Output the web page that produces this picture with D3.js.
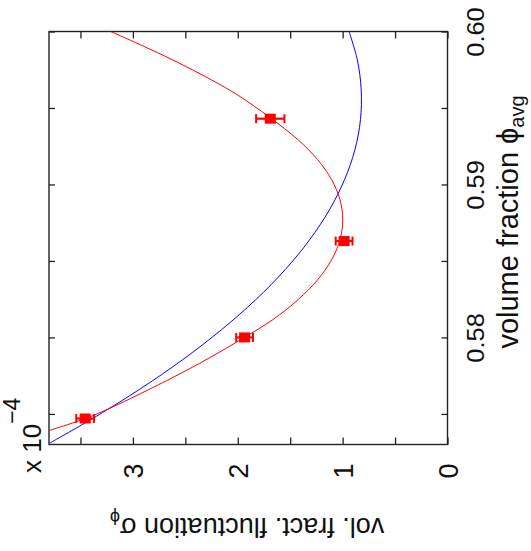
<!DOCTYPE html>
<html>
<head>
<meta charset="utf-8">
<script src="https://cdn.jsdelivr.net/npm/d3@7"></script>
<style>
  body { margin: 0; background: #fff; }
  svg { display: block; font-family: "Liberation Sans", Arial, Helvetica, sans-serif; }
</style>
</head>
<body>
<svg id="chart"></svg>
<script>
// DATA (phi = volume fraction, sigma = fluctuation in units of 1e-4)
const phiTicks = [0.575, 0.58, 0.585, 0.59, 0.595, 0.60];
const phiLabels = [0.58, 0.59, 0.60];
const sigmaTicks = [0, 0.5, 1, 1.5, 2, 2.5, 3, 3.5];
const sigmaLabels = [0, 1, 2, 3];

// measured points with error bars
const pointPhi = [0.5747, 0.5800, 0.5863, 0.5943];
const pointSigma = [3.455, 1.935, 0.986, 1.690];
const pointErr = [0.085, 0.080, 0.080, 0.135];

// red fit curve
const redPhi = [0.57393, 0.57469, 0.57544, 0.57659, 0.57776, 0.57887, 0.58001, 0.58116, 0.58247, 0.58377,
                0.58508, 0.58639, 0.58769, 0.58900, 0.59031, 0.59162, 0.59292, 0.59438, 0.59586, 0.59684,
                0.59815, 0.59907, 0.60000];
const redSigma = [3.792, 3.455, 3.198, 2.849, 2.513, 2.216, 1.935, 1.665, 1.425, 1.238,
                  1.105, 1.025, 0.999, 1.025, 1.105, 1.238, 1.425, 1.694, 2.004, 2.252,
                  2.622, 2.909, 3.211];

// blue model curve
const bluePhi = [0.57310, 0.57463, 0.57659, 0.57855, 0.58051, 0.58247, 0.58443, 0.58639, 0.58835,
                 0.59031, 0.59227, 0.59423, 0.59619, 0.59815, 0.60000];
const blueSigma = [3.791, 3.401, 2.940, 2.524, 2.154, 1.828, 1.548, 1.314, 1.125,
                   0.982, 0.883, 0.830, 0.823, 0.860, 0.939];

// LAYOUT (figure is rotated: phi runs up the right side, sigma runs right-to-left)
const W = 531, H = 551;
const box = { left: 49, right: 447.5, top: 31.5, bottom: 444.5 };

const svg = d3.select('#chart').attr('width', W).attr('height', H);
svg.append('rect').attr('width', W).attr('height', H).attr('fill', '#fff');

const y = d3.scaleLinear().domain([0.573, 0.60]).range([box.bottom, box.top]);
const x = d3.scaleLinear().domain([0, 3.8]).range([box.right, box.left]);

svg.append('clipPath').attr('id', 'plotClip')
  .append('rect')
  .attr('x', box.left).attr('y', box.top)
  .attr('width', box.right - box.left).attr('height', box.bottom - box.top);

// AXES
const fmt = d3.format('.2f');
const axisColor = '#222';

// right axis: volume fraction
const rightAxis = svg.append('g')
  .attr('transform', `translate(${box.right},0)`)
  .style('color', axisColor)
  .call(d3.axisRight(y).tickValues(phiTicks).tickSizeInner(-6).tickSizeOuter(0)
    .tickFormat(d => phiLabels.some(v => Math.abs(v - d) < 1e-9) ? fmt(d) : ''));
rightAxis.select('.domain').remove();
rightAxis.selectAll('.tick text')
  .attr('x', null).attr('dy', null)
  .attr('transform', 'translate(36,0) rotate(-90) scale(1.06,1)')
  .attr('text-anchor', 'middle')
  .attr('font-size', 24)
  .attr('fill', '#111');

// left mirror ticks
const leftAxis = svg.append('g')
  .attr('transform', `translate(${box.left},0)`)
  .style('color', axisColor)
  .call(d3.axisLeft(y).tickValues(phiTicks).tickSizeInner(-6).tickSizeOuter(0).tickFormat(''));
leftAxis.select('.domain').remove();

// bottom axis: fluctuation
const bottomAxis = svg.append('g')
  .attr('transform', `translate(0,${box.bottom})`)
  .style('color', axisColor)
  .call(d3.axisBottom(x).tickValues(sigmaTicks).tickSizeInner(-7).tickSizeOuter(0)
    .tickFormat(d => sigmaLabels.includes(d) ? d : ''));
bottomAxis.select('.domain').remove();
bottomAxis.selectAll('.tick text')
  .attr('y', null)
  .attr('dy', '0.36em')
  .attr('transform', 'translate(0,19) rotate(-90)')
  .attr('text-anchor', 'end')
  .attr('font-size', 27)
  .attr('fill', '#111');

// top mirror ticks
const topAxis = svg.append('g')
  .attr('transform', `translate(0,${box.top})`)
  .style('color', axisColor)
  .call(d3.axisTop(x).tickValues(sigmaTicks).tickSizeInner(-7).tickSizeOuter(0).tickFormat(''));
topAxis.select('.domain').remove();

svg.selectAll('.tick line').attr('stroke-width', 1.3);

// frame
svg.append('rect')
  .attr('x', box.left).attr('y', box.top)
  .attr('width', box.right - box.left).attr('height', box.bottom - box.top)
  .attr('fill', 'none').attr('stroke', axisColor).attr('stroke-width', 1.4);

// CURVES
const line = d3.line()
  .x(d => x(d[1]))
  .y(d => y(d[0]))
  .curve(d3.curveCatmullRom.alpha(0.5));

const plot = svg.append('g').attr('clip-path', 'url(#plotClip)');

plot.append('path')
  .datum(d3.zip(bluePhi, blueSigma))
  .attr('d', line)
  .attr('fill', 'none').attr('stroke', '#0000ff').attr('stroke-width', 1);

plot.append('path')
  .datum(d3.zip(redPhi, redSigma))
  .attr('d', line)
  .attr('fill', 'none').attr('stroke', '#ff0000').attr('stroke-width', 1);

// POINTS with horizontal error bars
const pts = pointPhi.map((p, i) => ({ phi: p, s: pointSigma[i], e: pointErr[i] }));
const pg = svg.append('g').selectAll('g').data(pts).enter().append('g')
  .attr('stroke', '#ff0000').attr('fill', '#ff0000');

pg.append('line')
  .attr('x1', d => x(d.s - d.e)).attr('x2', d => x(d.s + d.e))
  .attr('y1', d => y(d.phi)).attr('y2', d => y(d.phi))
  .attr('stroke-width', 2.2);
pg.append('line')
  .attr('x1', d => x(d.s - d.e)).attr('x2', d => x(d.s - d.e))
  .attr('y1', d => y(d.phi) - 4.5).attr('y2', d => y(d.phi) + 4.5)
  .attr('stroke-width', 2);
pg.append('line')
  .attr('x1', d => x(d.s + d.e)).attr('x2', d => x(d.s + d.e))
  .attr('y1', d => y(d.phi) - 4.5).attr('y2', d => y(d.phi) + 4.5)
  .attr('stroke-width', 2);
pg.append('rect')
  .attr('x', d => x(d.s) - 5.5).attr('y', d => y(d.phi) - 5)
  .attr('width', 11).attr('height', 10)
  .attr('stroke', 'none');

// LABELS
const rightLabel = svg.append('text')
  .attr('transform', 'translate(518,222) rotate(-90)')
  .attr('text-anchor', 'middle')
  .attr('font-size', 29)
  .attr('fill', '#111');
rightLabel.append('tspan').text('volume fraction ϕ');
rightLabel.append('tspan').attr('font-size', 20).attr('dy', '0.3em').text('avg');

const bottomLabel = svg.append('text')
  .attr('transform', 'translate(247,518) rotate(180)')
  .attr('text-anchor', 'middle')
  .attr('font-size', 27)
  .attr('fill', '#111');
bottomLabel.append('tspan').text('vol. fract. fluctuation σ');
bottomLabel.append('tspan').attr('font-size', 18).attr('dy', '0.35em').text('ϕ');

const expLabel = svg.append('text')
  .attr('transform', 'translate(41,473) rotate(-90)')
  .attr('text-anchor', 'start')
  .attr('font-size', 26)
  .attr('fill', '#111');
expLabel.append('tspan').text('x 10');
expLabel.append('tspan').attr('font-size', 23).attr('dy', -21).text('−4');
</script>
</body>
</html>
